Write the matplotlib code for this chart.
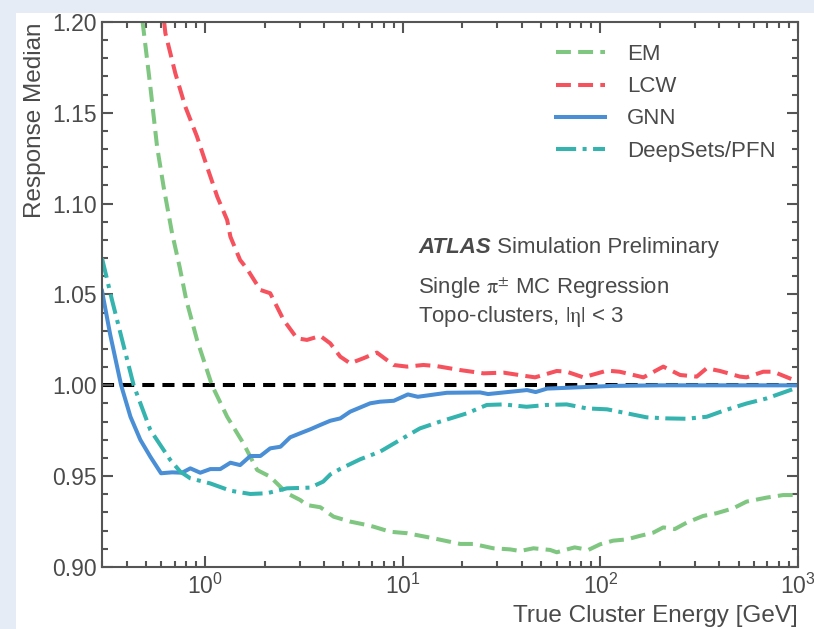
import numpy as np
from matplotlib import pyplot as plt
from matplotlib.patches import Rectangle

plt.rcParams['font.family'] = ['Liberation Sans', 'DejaVu Sans']
plt.rcParams['mathtext.fontset'] = 'stix'

# Energias [GeV] e mediana da resposta
e_em = [0.45, 0.484, 0.527, 0.570, 0.615, 0.679, 0.741, 0.801, 0.908, 1.081, 1.29, 1.56, 1.83,
        2.13, 2.59, 3.02, 3.27, 3.82, 4.46, 5.41, 6.58, 7.10, 8.63, 10.5, 14.3, 19.5, 22.7,
        28.7, 34.9, 39.2, 45.8, 55.6, 60.1, 74.0, 86.9, 99.6, 116, 136, 158, 185, 208, 238,
        273, 331, 387, 470, 549, 694, 841, 1000]
r_em = [1.225, 1.198, 1.1644, 1.1314, 1.1093, 1.0837, 1.0653, 1.047, 1.025, 1.0, 0.9827, 0.968,
        0.9534, 0.9497, 0.9406, 0.9369, 0.9341, 0.9329, 0.9277, 0.925, 0.9231, 0.9222, 0.9194,
        0.9186, 0.9158, 0.9127, 0.9127, 0.9103, 0.9097, 0.9088, 0.9103, 0.9094, 0.9081, 0.9108,
        0.9094, 0.9125, 0.9145, 0.9152, 0.9171, 0.9189, 0.9218, 0.9209, 0.9244, 0.9281, 0.9296,
        0.9323, 0.936, 0.9382, 0.9396, 0.9396]

e_lcw = [0.55, 0.628, 0.705, 0.792, 0.908, 1.02, 1.15, 1.29, 1.34, 1.50, 1.62, 1.90, 2.13, 2.49,
         2.91, 3.27, 3.82, 4.29, 4.82, 5.41, 6.31, 7.39, 8.97, 10.5, 12.7, 14.8, 19.5, 25.6,
         32.3, 40.8, 46.7, 60.1, 67.5, 81.9, 108, 125, 165, 208, 253, 307, 345, 403, 508,
         549, 667, 750, 1000]
r_lcw = [1.25, 1.1938, 1.1718, 1.1534, 1.1369, 1.1204, 1.1038, 1.091, 1.0818, 1.069, 1.0644,
         1.0525, 1.0507, 1.036, 1.0259, 1.025, 1.0272, 1.0231, 1.0158, 1.0121, 1.0149, 1.018,
         1.0112, 1.0103, 1.0112, 1.0106, 1.0084, 1.0066, 1.007, 1.0053, 1.0044, 1.0079, 1.0075,
         1.0044, 1.0081, 1.0075, 1.0044, 1.0103, 1.0057, 1.0048, 1.0094, 1.0079, 1.0048, 1.0044,
         1.0075, 1.0075, 1.002]

e_gnn = [0.3, 0.33, 0.375, 0.418, 0.469, 0.527, 0.597, 0.679, 0.762, 0.840, 0.943, 1.06, 1.19,
         1.34, 1.50, 1.69, 1.90, 2.13, 2.40, 2.69, 3.02, 3.40, 3.82, 4.29, 4.82, 5.41, 6.83,
         7.67, 9.0, 10.6, 11.9, 16.7, 24.6, 27.0, 42.5, 47.0, 53.7, 116, 200, 1000]
r_gnn = [1.052, 1.028, 1.0, 0.9827, 0.970, 0.9607, 0.9516, 0.9521, 0.9519, 0.9543, 0.9519,
         0.9539, 0.9539, 0.9574, 0.9561, 0.9611, 0.9611, 0.9653, 0.9662, 0.9714, 0.9736, 0.9758,
         0.9782, 0.9805, 0.9818, 0.9855, 0.9901, 0.991, 0.9915, 0.995, 0.9937, 0.9959, 0.9961,
         0.9952, 0.9974, 0.9963, 0.9982, 0.9997, 1.0, 1.0]

e_ds = [0.3, 0.337, 0.434, 0.527, 0.665, 0.747, 0.840, 1.06, 1.34, 1.69, 2.05, 2.59, 3.40, 3.95,
        4.3, 4.82, 6.08, 7.67, 9.69, 12.2, 15.4, 21.1, 26.6, 32.3, 42.3, 53.5, 67.5, 85.3, 108,
        136, 171, 216, 273, 345, 419, 549, 694, 1000]
r_ds = [1.070, 1.047, 1.0, 0.9754, 0.9589, 0.9525, 0.9488, 0.946, 0.942, 0.9402, 0.9406, 0.9433,
        0.9437, 0.947, 0.951, 0.954, 0.9593, 0.9635, 0.970, 0.9763, 0.980, 0.9846, 0.9892,
        0.9895, 0.9882, 0.9892, 0.9895, 0.9873, 0.9868, 0.9846, 0.9824, 0.9818, 0.9816, 0.9827,
        0.986, 0.990, 0.9928, 0.9989]

cinza = '#555555'
texto = '#4a4a4a'

fig = plt.figure(figsize=(8.14, 6.29), dpi=100)
fig.patch.set_facecolor('#e5ecf6')
fig.patches.append(Rectangle((16/814, 0), 1, 1 - 13/629, transform=fig.transFigure,
                             facecolor='white', edgecolor='none', zorder=-1))

ax = fig.add_axes([102/814, 1 - 567/629, 696/814, 545/629])

ax.axhline(1.0, color='k', lw=2.9, ls=(0, (3, 2)), zorder=1)
ax.plot(e_em, r_em, color='#7fc681', lw=2.9, ls=(0, (3.7, 1.8)), label='EM')
ax.plot(e_lcw, r_lcw, color='#f5525e', lw=2.9, ls=(0, (3.7, 1.8)), label='LCW')
ax.plot(e_gnn, r_gnn, color='#4a8fd6', lw=2.9, label='GNN')
ax.plot(e_ds, r_ds, color='#35b3ae', lw=2.9, ls=(0, (5, 1.6, 1, 1.6)), label='DeepSets/PFN')

ax.set_xscale('log')
ax.set_xlim(0.3, 1000)
ax.set_ylim(0.90, 1.20)
ax.set_yticks(np.arange(0.90, 1.201, 0.05))
ax.set_yticks(np.arange(0.90, 1.201, 0.01), minor=True)

for s in ax.spines.values():
    s.set_color(cinza)
    s.set_linewidth(1.5)
ax.tick_params(which='both', direction='in', top=True, right=True, color=cinza,
               labelcolor=texto, labelsize=16.5, width=1.5)
ax.tick_params(which='major', length=8)
ax.tick_params(which='minor', length=4)
ax.tick_params(axis='y', which='major', pad=4)
ax.tick_params(axis='x', which='major', pad=5)

ax.set_xlabel('True Cluster Energy [GeV]', loc='right', fontsize=17.5, color=texto)
ax.set_ylabel('Response Median', loc='top', fontsize=17.5, color=texto)

ax.legend(loc='upper right', frameon=False, fontsize=16, labelcolor=texto,
          handlelength=2.2, handletextpad=1.0, labelspacing=0.5, borderaxespad=0.6)

t = ax.text(0.454, 0.587, 'ATLAS', transform=ax.transAxes, fontsize=16, fontweight='bold',
            fontstyle='italic', color=texto, va='center')
ax.annotate(' Simulation Preliminary', xy=(1, 0), xycoords=t, va='bottom', fontsize=16,
            color=texto)
ax.text(0.454, 0.512, r'Single $\mathrm{\pi}^{\pm}$ MC Regression', transform=ax.transAxes,
        fontsize=16, color=texto, va='center')
ax.text(0.454, 0.4605, r'Topo-clusters, $|\mathrm{\eta}|$ < 3', transform=ax.transAxes,
        fontsize=16, color=texto, va='center')

plt.savefig('out.png', dpi=100, facecolor=fig.get_facecolor())
